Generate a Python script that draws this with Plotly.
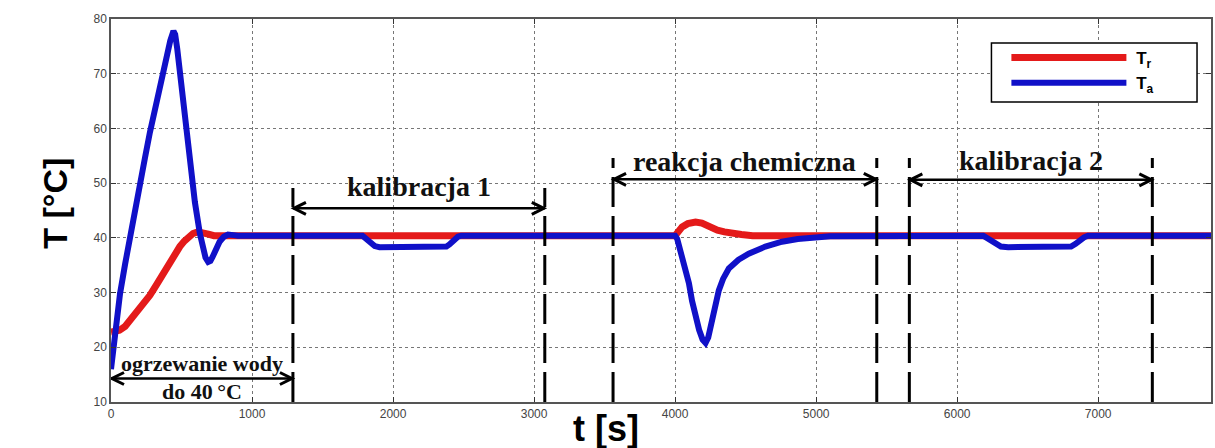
import plotly.graph_objects as go

# ---------------- data ----------------
t_r = [0, 30, 60, 100, 134, 180, 230, 276, 320, 360, 394, 430, 460, 488, 520, 550, 582, 615, 650, 690,
       730, 780, 850, 4000, 4020, 4050, 4090, 4145, 4190, 4230, 4263, 4300, 4350, 4404, 4470, 4550,
       4640, 4800, 7800]
T_r = [22.8, 22.8, 23.1, 23.8, 24.9, 26.2, 27.8, 29.5, 31.3, 33.1, 34.7, 36.3, 37.5, 38.4, 39.4, 40.2,
       40.8, 41.1, 41.0, 40.7, 40.4, 40.3, 40.4, 40.4, 41.2, 42.0, 42.6, 42.9, 42.7, 42.2, 41.7, 41.4,
       41.1, 40.8, 40.6, 40.4, 40.3, 40.4, 40.4]

t_a = [0, 16, 40, 64, 100, 134, 170, 205, 240, 276, 335, 394, 420, 443, 455, 470, 500, 530, 559, 595,
       630, 650, 670, 689, 705, 720, 748, 770, 800, 830, 870, 900,
       1783, 1810, 1840, 1870, 1904, 2100, 2378, 2400, 2430, 2460, 2484,
       4000, 4015, 4040, 4070, 4098, 4120, 4145, 4170, 4195, 4216, 4235, 4250, 4263, 4285, 4310, 4340,
       4381, 4450, 4522, 4640, 4758, 4870, 4994, 5100,
       6185, 6210, 6240, 6270, 6310, 6362, 6808, 6840, 6870, 6900, 6928, 7800]
T_a = [16.0, 19.5, 25.0, 29.8, 35.2, 40.2, 45.2, 50.0, 54.5, 59.3, 66.6, 73.4, 76.0, 77.8, 77.2, 74.5,
       67.5, 60.0, 53.0, 46.5, 40.8, 38.2, 36.4, 35.6, 35.8, 36.5, 38.1, 39.3, 40.2, 40.6, 40.5, 40.4,
       40.4, 39.8, 39.0, 38.5, 38.3, 38.4, 38.4, 38.8, 39.6, 40.2, 40.4,
       40.4, 39.8, 37.5, 34.5, 31.7, 28.5, 25.5, 23.2, 21.4, 20.8, 21.8, 23.5, 25.5, 28.2, 30.4, 32.5,
       34.4, 36.0, 37.1, 38.4, 39.3, 39.8, 40.1, 40.3,
       40.4, 40.0, 39.3, 38.8, 38.4, 38.3, 38.4, 38.9, 39.6, 40.1, 40.4, 40.4]

x_ticks = [0, 1000, 2000, 3000, 4000, 5000, 6000, 7000]
y_ticks = [10, 20, 30, 40, 50, 60, 70, 80]

# phase boundaries (dashed vertical lines) and their top ends
bound_t = [1290, 3076, 3560, 5430, 5661, 7384]
bound_top = [49.1, 49.1, 54.6, 54.6, 54.6, 54.6]

# phase arrows
phase_names = ["kalibracja 1", "reakcja chemiczna", "kalibracja 2"]
phase_start = [1290, 3560, 5661]
phase_end = [3076, 5430, 7384]
phase_arrow_y = [45.4, 50.7, 50.6]
phase_label_y = [49.3, 54.0, 54.2]

heat_start, heat_end, heat_arrow_y = 0, 1290, 14.3
heat_label = ["ogrzewanie wody", "do 40\u2009°C"]
heat_label_y = [17.1, 12.0]

# ---------------- figure ----------------
fig = go.Figure()
fig.add_trace(go.Scatter(x=t_r, y=T_r, mode="lines",
                         name="\u00a0<b>T<sub>r</sub></b>",
                         line=dict(color="#e41a1a", width=7)))
fig.add_trace(go.Scatter(x=t_a, y=T_a, mode="lines",
                         name="\u00a0<b>T<sub>a</sub></b>",
                         line=dict(color="#1010c8", width=6)))

shapes = []
# legend frame (white box with black border)
shapes.append(dict(type="rect", xref="paper", yref="paper", x0=0.8004, x1=0.9873, y0=0.7833, y1=0.9373,
                   fillcolor="white", line=dict(color="black", width=1.5), layer="above"))

for bt, top in zip(bound_t, bound_top):
    shapes.append(dict(type="line", xref="x", yref="y", x0=bt, x1=bt, y0=10, y1=top,
                       line=dict(color="black", width=3, dash="30px,9px")))


def arrow(x0, x1, y):
    out = [dict(type="line", xref="x", yref="y", x0=x0, x1=x1, y0=y, y1=y,
                line=dict(color="black", width=2.5))]
    out.append(dict(type="path", xref="x", yref="y", xsizemode="pixel", ysizemode="pixel",
                    xanchor=x0, yanchor=y, path="M 13,6 L 1,0 L 13,-6",
                    line=dict(color="black", width=3)))
    out.append(dict(type="path", xref="x", yref="y", xsizemode="pixel", ysizemode="pixel",
                    xanchor=x1, yanchor=y, path="M -13,6 L -1,0 L -13,-6",
                    line=dict(color="black", width=3)))
    return out


for s, e, ay in zip(phase_start, phase_end, phase_arrow_y):
    shapes += arrow(s, e, ay)
shapes += arrow(heat_start, heat_end, heat_arrow_y)

annotations = []
for name, s, e, ly in zip(phase_names, phase_start, phase_end, phase_label_y):
    annotations.append(dict(x=(s + e) / 2, y=ly, xref="x", yref="y", text="<b>%s</b>" % name,
                            xanchor="center", yanchor="middle",
                            showarrow=False, font=dict(family="Liberation Serif", size=28, color="#111")))
for txt, ly in zip(heat_label, heat_label_y):
    annotations.append(dict(x=(heat_start + heat_end) / 2, y=ly, xref="x", yref="y", text="<b>%s</b>" % txt,
                            xanchor="center", yanchor="middle",
                            showarrow=False, font=dict(family="Liberation Serif", size=22, color="#111")))

annotations.append(dict(x=0.45, y=-0.068, xref="paper", yref="paper", text="<b>t [s]</b>",
                        xanchor="center", yanchor="middle",
                        showarrow=False, font=dict(family="Liberation Sans", size=36, color="black")))
annotations.append(dict(x=-0.051, y=0.52, xref="paper", yref="paper", text="<b>T [°C]</b>", textangle=-90,
                        xanchor="center", yanchor="middle",
                        showarrow=False, font=dict(family="Liberation Sans", size=34, color="black")))

axis_common = dict(showgrid=True, gridcolor="#777", griddash="dot", gridwidth=1,
                   showline=True, linecolor="#555", linewidth=1.5, mirror="ticks",
                   ticks="inside", ticklen=5, tickcolor="#333", zeroline=False,
                   tickfont=dict(family="Liberation Sans", size=12, color="#444"))

fig.update_layout(
    width=1215, height=448,
    margin=dict(l=111, r=2, t=19, b=46),
    paper_bgcolor="white", plot_bgcolor="white",
    xaxis=dict(range=[0, 7800], tickvals=x_ticks, **axis_common),
    yaxis=dict(range=[10, 80], tickvals=y_ticks, **axis_common),
    shapes=shapes, annotations=annotations,
    showlegend=True,
    legend=dict(x=0.814, y=0.945, xanchor="left", yanchor="top", borderwidth=0,
                bgcolor="rgba(0,0,0,0)", itemwidth=115,
                font=dict(family="Liberation Sans", size=17, color="black")),
)

fig.write_html("out.html", config={"displayModeBar": False},
               post_script="document.body.style.margin='0';document.body.style.overflow='hidden';")
